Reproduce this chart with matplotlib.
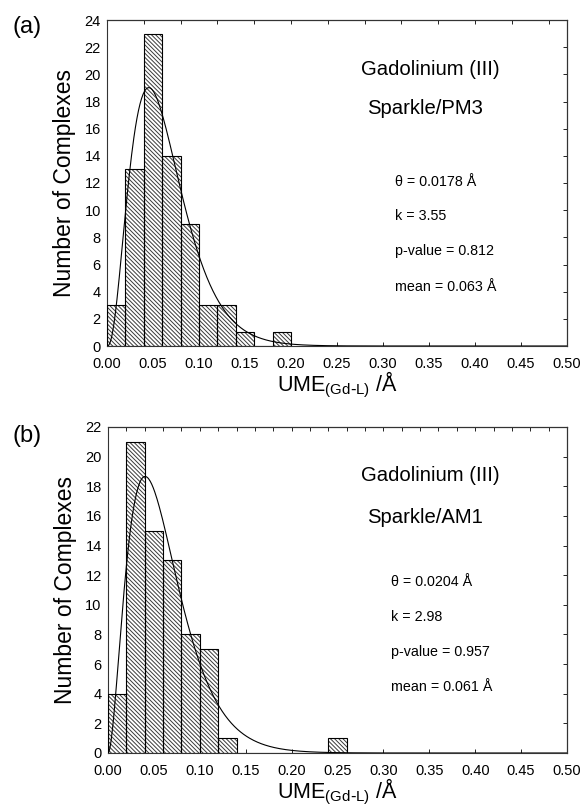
import math
import numpy as np
import matplotlib
matplotlib.use("Agg")
import matplotlib.pyplot as plt

plt.rcParams['font.family'] = ['Liberation Sans', 'DejaVu Sans']
plt.rcParams['hatch.linewidth'] = 0.7

# ---- data ----
bin_width = 0.02
bin_left_a = [0.00, 0.02, 0.04, 0.06, 0.08, 0.10, 0.12, 0.14, 0.16, 0.18]
counts_a = [3, 13, 23, 14, 9, 3, 3, 1, 0, 1]
theta_a = 0.0178
k_a = 3.55

bin_left_b = [0.00, 0.02, 0.04, 0.06, 0.08, 0.10, 0.12, 0.14, 0.16, 0.18, 0.20, 0.22, 0.24]
counts_b = [4, 21, 15, 13, 8, 7, 1, 0, 0, 0, 0, 0, 1]
theta_b = 0.0204
k_b = 2.98

xticks = [0.00, 0.05, 0.10, 0.15, 0.20, 0.25, 0.30, 0.35, 0.40, 0.45, 0.50]

panels = [
    dict(label="(a)", left=bin_left_a, counts=counts_a, theta=theta_a, k=k_a,
         method="Sparkle/PM3", ymax=24, top_step=0.04,
         stats=["\u03b8 = 0.0178 \u00c5", "k = 3.55", "p-value = 0.812", "mean = 0.063 \u00c5"]),
    dict(label="(b)", left=bin_left_b, counts=counts_b, theta=theta_b, k=k_b,
         method="Sparkle/AM1", ymax=22, top_step=0.02,
         stats=["\u03b8 = 0.0204 \u00c5", "k = 2.98", "p-value = 0.957", "mean = 0.061 \u00c5"]),
]

fig = plt.figure(figsize=(5.84, 8.09), dpi=100)
W, H = 584, 809

def axes_rect(l, t, r, b):
    return [l / W, 1 - b / H, (r - l) / W, (b - t) / H]

rects = [axes_rect(107, 20, 567, 346), axes_rect(108, 427, 567, 753)]
text_pos = [
    dict(g=(0.702, 0.847), s=(0.691, 0.730), sx=0.626, sy=[0.503, 0.399, 0.291, 0.181], lab_y=27),
    dict(g=(0.702, 0.850), s=(0.691, 0.721), sx=0.617, sy=[0.525, 0.417, 0.310, 0.202], lab_y=436),
]

for p, rect, tp in zip(panels, rects, text_pos):
    ax = fig.add_axes(rect)
    # hatch layer
    ax.bar(p["left"], p["counts"], width=bin_width, align="edge", color="white",
           edgecolor="#3a3a3a", linewidth=0, hatch="\\" * 8, zorder=2)
    # outline layer
    ax.bar(p["left"], p["counts"], width=bin_width, align="edge", facecolor="none",
           edgecolor="black", linewidth=0.8, zorder=3)
    # fitted gamma curve (from the parameters shown in the chart)
    n = sum(p["counts"])
    xs = np.linspace(0.0, 0.5, 600)
    k, th = p["k"], p["theta"]
    pdf = xs ** (k - 1) * np.exp(-xs / th) / (math.gamma(k) * th ** k)
    ax.plot(xs, n * bin_width * pdf, color="black", linewidth=0.8, zorder=4)

    ax.set_xlim(0, 0.5)
    ax.set_ylim(0, p["ymax"])
    ax.set_xticks(xticks)
    ax.set_xticklabels([f"{v:.2f}" for v in xticks], fontsize=10.5)
    ax.set_yticks(range(0, p["ymax"] + 1, 2))
    ax.set_yticklabels([str(v) for v in range(0, p["ymax"] + 1, 2)], fontsize=10.5)
    ax.tick_params(axis="x", direction="in", length=3, width=0.6, pad=8, top=False)
    ax.tick_params(axis="y", direction="in", length=0, pad=4.5, right=False)
    for sp in ax.spines.values():
        sp.set_linewidth(0.8)
        sp.set_color("#333333")

    # top / right inward ticks
    axt = ax.secondary_xaxis("top")
    axt.set_xticks(np.arange(0, 0.5001, p["top_step"]))
    axt.tick_params(direction="in", length=3, width=0.6, labeltop=False)
    axr = ax.secondary_yaxis("right")
    axr.set_yticks(range(0, p["ymax"] + 1, 2))
    axr.tick_params(direction="in", length=3, width=0.6, labelright=False)

    ax.set_ylabel("Number of Complexes", fontsize=16.5, labelpad=6)
    ax.set_xlabel("UME$_{\\mathregular{(Gd\\text{-}L)}}$ /\u00c5", fontsize=15.5, labelpad=-1)

    ax.text(*tp["g"], "Gadolinium (III)", transform=ax.transAxes, fontsize=14.6,
            ha="center", va="center")
    ax.text(*tp["s"], p["method"], transform=ax.transAxes, fontsize=14.6,
            ha="center", va="center")
    for s, y in zip(p["stats"], tp["sy"]):
        ax.text(tp["sx"], y, s, transform=ax.transAxes, fontsize=10.3,
                ha="left", va="center")

    fig.text(12 / W, 1 - tp["lab_y"] / H, p["label"], fontsize=17, ha="left", va="center")

fig.savefig("out.png", dpi=100)
